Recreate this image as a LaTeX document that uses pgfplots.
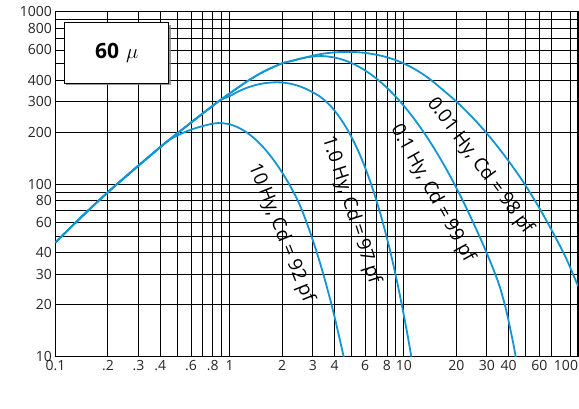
\documentclass[border=0pt]{standalone}
\usepackage{fontspec}
\setmainfont{Open Sans}
\usepackage{pgfplots}
\pgfplotsset{compat=1.18}
\usetikzlibrary{shadows}
\definecolor{curve}{RGB}{16,150,212}
\begin{document}
\begin{tikzpicture}
\useasboundingbox (-55.5pt,-51.3pt) rectangle (523.5pt,356.7pt);
\begin{axis}[
  at={(0,0)}, anchor=south west,
  scale only axis, width=522.5pt, height=345pt,
  xmode=log, ymode=log,
  xmin=0.1, xmax=100, ymin=10, ymax=1000,
  xtick={0.1,0.2,0.3,0.4,0.6,0.8,1,2,3,4,6,8,10,20,30,40,60,100},
  xticklabels={0.1,.2,.3,.4,.6,.8,1,2,3,4,6,8,10,20,30,40,60,\makebox[0pt][r]{100}},
  minor xtick={0.5,0.7,0.9,5,7,9,50,70,90},
  ytick={10,20,30,40,60,80,100,200,300,400,600,800,1000},
  yticklabels={10,20,30,40,60,80,100,200,300,400,600,800,1000},
  minor ytick={50,70,90,500,700,900},
  grid=both,
  major grid style={black, line width=0.9pt},
  minor grid style={black, line width=0.9pt},
  major tick length=0pt, minor tick length=0pt,
  axis line style={black, line width=1.1pt},
  ticklabel style={font=\fontsize{14}{14}\selectfont, text=black!85},
  clip=true,
]
% 10 Hy
\addplot[curve, line width=1.8pt, smooth] coordinates {
 (0.1,46) (0.141,64.6) (0.2,89.9) (0.3,128.4) (0.439,177.4) (0.49,189.2) (0.542,198.9)
 (0.617,209.2) (0.7,217.3) (0.794,224.1) (0.871,226.5) (0.891,226.3) (1,222.4) (1.122,213)
 (1.259,198.9) (1.413,181.1) (1.585,160.8) (1.778,139.2) (1.995,117.5) (2.239,96.6)
 (2.512,76.9) (2.818,57.0) (3.162,40.4) (3.548,27.2) (3.981,17.4) (4.467,10.5) (4.677,8.5)};
% 1.0 Hy
\addplot[curve, line width=1.8pt, smooth] coordinates {
 (0.1,46) (0.141,64.6) (0.2,89.9) (0.3,128.4) (0.439,177.4) (0.542,209.9) (0.7,256.9)
 (0.87,303.8) (1,324) (1.122,345) (1.259,362.4) (1.413,376) (1.585,385.1) (1.862,389.9)
 (2.089,386.9) (2.344,378) (2.63,363.6) (2.951,344.4) (3.311,321.1) (3.715,290.8)
 (4.169,253.2) (4.677,212.3) (5.248,170.7) (5.888,130.8) (6.607,94.9) (7.413,64.9)
 (8.318,41.6) (9.333,24.7) (10.47,13.6) (11.48,7.9)};
% 0.1 Hy
\addplot[curve, line width=1.8pt, smooth] coordinates {
 (0.1,46) (0.141,64.6) (0.2,89.9) (0.3,128.4) (0.439,177.4) (0.542,209.9) (0.7,256.9)
 (0.87,303.8) (1,336) (1.285,400) (1.585,452) (1.98,500) (2.239,516.4) (2.512,532.2)
 (2.818,545.8) (3.311,552.8) (3.631,550.3) (4.074,540.1) (4.571,522.4) (5.129,498.2)
 (5.754,468.3) (6.457,434) (7.244,396.3) (8.128,356.8) (9.12,316.6) (10.23,276.9)
 (11.48,238.8) (12.88,203) (14.45,170.1) (16.22,140.4) (18.2,114.3) (20.42,91.7)
 (22.91,72.5) (25.7,56.5) (28.84,43.5) (32.36,32.9) (35.48,25.6) (38.9,18.2) (42.66,11.7) (44.67,9.0)};
% 0.01 Hy
\addplot[curve, line width=1.8pt, smooth] coordinates {
 (0.1,46) (0.141,64.6) (0.2,89.9) (0.3,128.4) (0.439,177.4) (0.542,209.9) (0.7,256.9)
 (0.87,303.8) (1,336) (1.285,400) (1.585,452) (1.98,500) (2.239,516.4) (2.512,532.2)
 (2.818,547) (3.0,555.9) (3.388,570) (3.802,578) (4.266,583.4) (4.786,584.8) (5.37,582.7)
 (6.026,576.5) (6.761,566.2) (7.586,552.3) (8.511,534) (9.55,511) (10.72,484) (12.02,453.6)
 (13.49,420.1) (15.14,384.2) (16.98,348) (19.05,315.4) (21.38,283.3) (23.99,252.3)
 (26.92,222.8) (30.2,195.1) (33.88,169.3) (38.02,145.7) (42.66,124.3) (47.86,105.2)
 (53.7,87.6) (60.26,72.2) (67.61,58.7) (75.86,47.2) (85.11,37.6) (95.5,28.7) (100,25.7)};

\node[font=\fontsize{19}{19}\selectfont, rotate=-68] at (axis description cs:0.4316,0.3586) {10 Hy, Cd = 92 pf};
\node[font=\fontsize{19}{19}\selectfont, rotate=-72] at (axis description cs:0.5656,0.4252) {1.0 Hy, Cd = 97 pf};
\node[font=\fontsize{19}{19}\selectfont, rotate=-61] at (axis description cs:0.7215,0.4730) {0.1 Hy, Cd = 99 pf};
\node[font=\fontsize{19}{19}\selectfont, rotate=-53.3] at (axis description cs:0.8124,0.5528) {0.01 Hy, Cd = 98 pf};

\node[draw=black, line width=1pt, fill=white, minimum width=104.7pt, minimum height=60.6pt,
  drop shadow={shadow xshift=2pt, shadow yshift=-2pt, fill=black!50, opacity=0.8},
  font=\fontsize{21}{21}\selectfont] at (axis description cs:0.117,0.8803) {\bfseries 60\,\,$\mu$};

\node[font=\fontsize{17}{17}\selectfont\bfseries] at (axis description cs:-0.0727,0.579) {Q};
\node[font=\fontsize{16}{16}\selectfont\bfseries] at (axis description cs:0.443,-0.104) {Frequency-Kilohertz};
\end{axis}
\end{tikzpicture}
\end{document}
